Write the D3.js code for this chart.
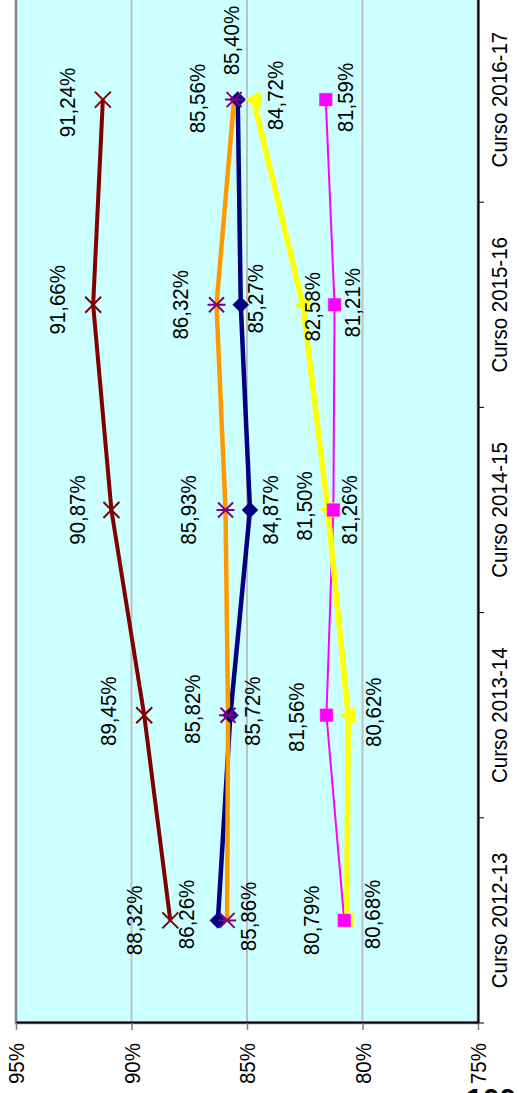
<!DOCTYPE html>
<html>
<head>
<meta charset="utf-8">
<script src="https://cdn.jsdelivr.net/npm/d3@7"></script>
<style>
  html, body { margin: 0; padding: 0; background: #ffffff; }
  svg { display: block; font-family: "Liberation Sans", Arial, sans-serif; }
</style>
</head>
<body>
<svg id="chart" width="518" height="1093"></svg>
<script>
// ---- data ----
const categories = ["Curso 2012-13", "Curso 2013-14", "Curso 2014-15", "Curso 2015-16", "Curso 2016-17"];
const serieDarkRed = [88.32, 89.45, 90.87, 91.66, 91.24];
const serieNavy    = [86.26, 85.72, 84.87, 85.27, 85.40];
const serieOrange  = [85.86, 85.82, 85.93, 86.32, 85.56];
const serieYellow  = [80.68, 80.62, 81.50, 82.58, 84.72];
const serieMagenta = [80.79, 81.56, 81.26, 81.21, 81.59];
const valueTicks = [75, 80, 85, 90, 95];
const pageNumber = "100";

// ---- layout (label offsets in the unrotated chart frame: [along categories, along values]) ----
const labelShift = {
  darkred: [[0,-36],[4,-36],[0,-34],[5,-36],[-3,-36]],
  navy:    [[6,-32],[4,22],[0,20],[6,14],[59,-7]],
  orange:  [[4,21],[6,-36],[0,-37],[0,-36],[1,-37]],
  yellow:  [[6,25],[3,25],[4,-24],[-2,9],[4,22]],
  magenta: [[0,-33],[-2,-30],[0,16],[2,17],[2,19]]
};

const series = [
  {key:"darkred", values: serieDarkRed, color:"#800000", width:4,   marker:"x",        mcolor:"#800000"},
  {key:"navy",    values: serieNavy,    color:"#000080", width:4.5, marker:"diamond",  mcolor:"#000080"},
  {key:"orange",  values: serieOrange,  color:"#ff9900", width:4.5, marker:"star",     mcolor:"#800080"},
  {key:"magenta", values: serieMagenta, color:"#ff00ff", width:2,   marker:"square",   mcolor:"#ff00ff"},
  {key:"yellow",  values: serieYellow,  color:"#ffff00", width:5.5, marker:"triangle", mcolor:"#ffff00"}
];
const markerOrder = ["darkred","navy","orange","yellow","magenta"];

const FONT = 20.5, STRETCH = 1.08;
const svg = d3.select("#chart");
const W = 1026, H = 462;   // unrotated plot size
const g = svg.append("g").attr("transform", "translate(16,1023) rotate(-90)");

const x = d3.scaleBand().domain(categories).range([0, W]);
const y = d3.scaleLinear().domain([75, 95]).range([H, 0]);
const cx = c => x(c) + x.bandwidth() / 2;

function stretch(sel) {
  sel.each(function () {
    const t = d3.select(this);
    const tx = +t.attr("x") || 0, ty = +t.attr("y") || 0;
    t.attr("transform", `translate(${tx},${ty}) scale(1,${STRETCH}) translate(${-tx},${-ty})`);
  });
}

// plot area
g.append("rect").attr("x", 0).attr("y", 0).attr("width", W).attr("height", H)
  .attr("fill", "#ccffff").attr("stroke", "#808080").attr("stroke-width", 2.5);

// gridlines
g.selectAll(".grid").data(valueTicks.filter(v => v > 75 && v < 95)).enter()
  .append("line").attr("x1", 0).attr("x2", W)
  .attr("y1", d => y(d)).attr("y2", d => y(d))
  .attr("stroke", "#c0c0c0").attr("stroke-width", 2);

// value axis
const yAxis = g.append("g").call(
  d3.axisLeft(y).tickValues(valueTicks).tickSize(7).tickSizeOuter(0).tickPadding(13)
    .tickFormat(d => d + "%"));
yAxis.select(".domain").attr("stroke", "#000").attr("stroke-width", 2);
yAxis.selectAll(".tick line").attr("stroke", "#808080").attr("stroke-width", 1.5);
yAxis.selectAll("text").attr("font-size", FONT).attr("fill", "#000")
  .attr("font-family", "Liberation Sans, Arial, sans-serif").attr("dy", "0.36em")
  .call(stretch);

// category axis
const xAxis = g.append("g").attr("transform", `translate(0,${H})`).call(
  d3.axisBottom(x).tickSize(0).tickSizeOuter(0));
xAxis.select(".domain").attr("stroke", "#000").attr("stroke-width", 2);
xAxis.selectAll("text").attr("font-size", FONT).attr("fill", "#000")
  .attr("font-family", "Liberation Sans, Arial, sans-serif")
  .attr("y", 29).attr("dy", 0).call(stretch);
g.selectAll(".ctick").data(d3.range(categories.length + 1)).enter()
  .append("line")
  .attr("x1", i => i * x.bandwidth()).attr("x2", i => i * x.bandwidth())
  .attr("y1", H).attr("y2", H + 6)
  .attr("stroke", "#000").attr("stroke-width", 1);

// lines
const line = d3.line().x((d, i) => cx(categories[i])).y(d => y(d));
series.forEach(s => {
  g.append("path").datum(s.values).attr("d", line)
    .attr("fill", "none").attr("stroke", s.color).attr("stroke-width", s.width)
    .attr("stroke-linejoin", "round");
});

// markers
const markerPath = {
  x: "M-8,-8L8,8M-8,8L8,-8",
  star: "M-7.5,-7.5L7.5,7.5M-7.5,7.5L7.5,-7.5M0,-9L0,9",
  diamond: "M0,-8L8,0L0,8L-8,0Z",
  triangle: "M0,-8L8,7L-8,7Z",
  square: "M-6.3,-6.3L6.3,-6.3L6.3,6.3L-6.3,6.3Z"
};
markerOrder.forEach(k => {
  const s = series.find(d => d.key === k);
  const stroked = (s.marker === "x" || s.marker === "star");
  g.selectAll(".m-" + k).data(s.values).enter().append("path")
    .attr("transform", (d, i) => `translate(${cx(categories[i])},${y(d)})`)
    .attr("d", markerPath[s.marker])
    .attr("fill", stroked ? "none" : s.mcolor)
    .attr("stroke", s.mcolor).attr("stroke-width", stroked ? 2 : 0.5);
});

// data labels
const fmt = v => v.toFixed(2).replace(".", ",") + "%";
series.forEach(s => {
  g.selectAll(".l-" + s.key).data(s.values).enter().append("text")
    .attr("x", (d, i) => cx(categories[i]) + labelShift[s.key][i][0])
    .attr("y", (d, i) => y(d) + labelShift[s.key][i][1])
    .attr("dy", "0.36em")
    .attr("text-anchor", "middle")
    .attr("font-size", FONT).attr("fill", "#000")
    .text(d => fmt(d))
    .call(stretch);
});

// page number (partly cut off at the bottom, as in the source page)
svg.append("text").attr("x", 466).attr("y", 1109)
  .attr("font-size", 30).attr("font-weight", "bold").attr("fill", "#000")
  .text(pageNumber);
</script>
</body>
</html>
